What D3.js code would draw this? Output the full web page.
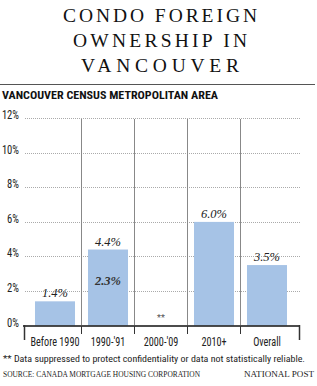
<!DOCTYPE html>
<html>
<head>
<meta charset="utf-8">
<script src="https://cdn.jsdelivr.net/npm/d3@7"></script>
<style>
  body { margin: 0; background: #fff; }
  svg { display: block; }
  .sans { font-family: "Liberation Sans Narrow", "Roboto Condensed", Roboto, sans-serif; }
  .serif { font-family: "Liberation Serif", "DejaVu Serif", serif; }
</style>
</head>
<body>
<svg class="chart"></svg>
<script>
let title_lines = ["CONDO FOREIGN", "OWNERSHIP IN", "VANCOUVER"]
let subtitle = "VANCOUVER CENSUS METROPOLITAN AREA"
let categories = ["Before 1990", "1990-'91", "2000-'09", "2010+", "Overall"]
let values = [1.4, 4.4, null, 6.0, 3.5]
let inner_values = [null, 2.3, null, null, null]
let y_ticks = [0, 2, 4, 6, 8, 10, 12]
let suppressed_mark = "**"
let footnote = "** Data suppressed to protect confidentiality or data not statistically reliable."
let source = "SOURCE: CANADA MORTGAGE HOUSING CORPORATION"
let credit = "NATIONAL POST"

let width = 317
let height = 386

let svg = d3.select(".chart")
    .attr("width", width)
    .attr("height", height)

let x = d3.scaleBand()
    .domain(categories)
    .range([28.5, 293.5])
    .paddingInner(0.245)
    .paddingOuter(0.1225)

let y = d3.scaleLinear()
    .domain([0, 12])
    .range([325.5, 118.3])

// squeeze text to a given width (no condensed fonts installed)
function fit(sel, w) {
    sel.attr("textLength", w).attr("lengthAdjust", "spacingAndGlyphs")
}
function condense(sel, f) {
    sel.each(function () {
        let n = this.getComputedTextLength()
        d3.select(this).attr("textLength", n * f).attr("lengthAdjust", "spacingAndGlyphs")
    })
}

// title
let title_widths = [194, 174, 158]
svg.selectAll("text.title")
    .data(title_lines)
    .enter().append("text")
    .classed("title serif", true)
    .attr("x", 160)
    .attr("y", (d, i) => 22 + i * 25)
    .attr("text-anchor", "middle")
    .attr("font-size", 19.5)
    .attr("fill", "#111")
    .text(d => d)
    .each(function (d, i) {
        d3.select(this).attr("textLength", title_widths[i]).attr("lengthAdjust", "spacing")
    })

svg.append("line")
    .attr("x1", 0).attr("x2", 315)
    .attr("y1", 84.5).attr("y2", 84.5)
    .attr("stroke", "#555")

svg.append("text")
    .classed("sans", true)
    .attr("x", 2).attr("y", 99)
    .attr("font-size", 10.5)
    .attr("font-weight", "bold")
    .attr("fill", "#111")
    .text(subtitle)
    .call(fit, 216)

// gridlines
svg.append("g")
    .selectAll("line")
    .data(y_ticks.filter(d => d > 0))
    .enter().append("line")
    .attr("x1", 25).attr("x2", 300)
    .attr("y1", d => Math.round(y(d)) + 0.5)
    .attr("y2", d => Math.round(y(d)) + 0.5)
    .attr("stroke", "#aaa")
    .attr("stroke-dasharray", "1,1")

svg.append("g")
    .selectAll("text")
    .data(y_ticks)
    .enter().append("text")
    .classed("sans", true)
    .attr("x", 19)
    .attr("y", d => y(d) + 1)
    .attr("text-anchor", "end")
    .attr("font-size", 12)
    .attr("fill", "#222")
    .text(d => d + "%")
    .call(condense, 0.88)

// separators between categories
let step = x.step()
let bounds = categories.slice(1).map(c => x(c) - (step - x.bandwidth()) / 2 - 1)
svg.append("g")
    .selectAll("line")
    .data(bounds)
    .enter().append("line")
    .attr("x1", d => Math.round(d) + 0.5)
    .attr("x2", d => Math.round(d) + 0.5)
    .attr("y1", 119)
    .attr("y2", 325)
    .attr("stroke", "#888")

// bars
svg.append("g")
    .selectAll("rect")
    .data(categories.map((c, i) => ({ c: c, v: values[i] })).filter(d => d.v !== null))
    .enter().append("rect")
    .attr("x", d => x(d.c))
    .attr("width", x.bandwidth())
    .attr("y", d => y(d.v))
    .attr("height", d => y(0) - y(d.v))
    .attr("fill", "#a6c3e6")

// value labels
svg.append("g")
    .selectAll("text")
    .data(categories.map((c, i) => ({ c: c, v: values[i] })).filter(d => d.v !== null))
    .enter().append("text")
    .classed("serif", true)
    .attr("x", d => x(d.c) + x.bandwidth() / 2)
    .attr("y", d => y(d.v) - 4)
    .attr("text-anchor", "middle")
    .attr("font-size", 12.5)
    .attr("font-style", "italic")
    .attr("fill", "#222")
    .text(d => d.v.toFixed(1) + "%")

svg.append("g")
    .selectAll("text")
    .data(categories.map((c, i) => ({ c: c, v: inner_values[i] })).filter(d => d.v !== null))
    .enter().append("text")
    .classed("serif", true)
    .attr("x", d => x(d.c) + x.bandwidth() / 2)
    .attr("y", d => y(d.v) - 1)
    .attr("text-anchor", "middle")
    .attr("font-size", 12.5)
    .attr("font-style", "italic")
    .attr("font-weight", "bold")
    .attr("fill", "#333")
    .text(d => d.v.toFixed(1) + "%")

svg.append("g")
    .selectAll("text")
    .data(categories.filter((c, i) => values[i] === null))
    .enter().append("text")
    .classed("sans", true)
    .attr("x", d => x(d) + x.bandwidth() / 2)
    .attr("y", y(0) - 5)
    .attr("text-anchor", "middle")
    .attr("font-size", 9)
    .attr("fill", "#555")
    .text(suppressed_mark)

// x axis
svg.append("line")
    .attr("x1", 23).attr("x2", 300)
    .attr("y1", 326).attr("y2", 326)
    .attr("stroke", "#111")
    .attr("stroke-width", 1.5)

svg.append("g")
    .selectAll("line")
    .data(bounds)
    .enter().append("line")
    .attr("x1", d => Math.round(d) + 0.5)
    .attr("x2", d => Math.round(d) + 0.5)
    .attr("y1", 326).attr("y2", 334)
    .attr("stroke", "#333")

svg.append("g")
    .selectAll("line")
    .data([24, 299])
    .enter().append("line")
    .attr("x1", d => d + 0.5).attr("x2", d => d + 0.5)
    .attr("y1", 325).attr("y2", 340)
    .attr("stroke", "#333")
    .attr("stroke-width", 1.5)

svg.append("g")
    .selectAll("text")
    .data(categories)
    .enter().append("text")
    .classed("sans", true)
    .attr("x", d => x(d) + x.bandwidth() / 2)
    .attr("y", 346)
    .attr("text-anchor", "middle")
    .attr("font-size", 12)
    .attr("fill", "#222")
    .text(d => d)
    .call(condense, 0.85)

// footer
svg.append("text")
    .classed("sans", true)
    .attr("x", 3).attr("y", 362)
    .attr("font-size", 9.5)
    .attr("fill", "#222")
    .text(footnote)
    .call(fit, 302)

svg.append("text")
    .classed("serif", true)
    .attr("x", 3).attr("y", 377)
    .attr("font-size", 9)
    .attr("fill", "#222")
    .text(source)
    .call(fit, 197)

svg.append("text")
    .classed("serif", true)
    .attr("x", 314).attr("y", 377)
    .attr("text-anchor", "end")
    .attr("font-size", 9)
    .attr("fill", "#222")
    .text(credit)
    .call(fit, 70)
</script>
</body>
</html>
